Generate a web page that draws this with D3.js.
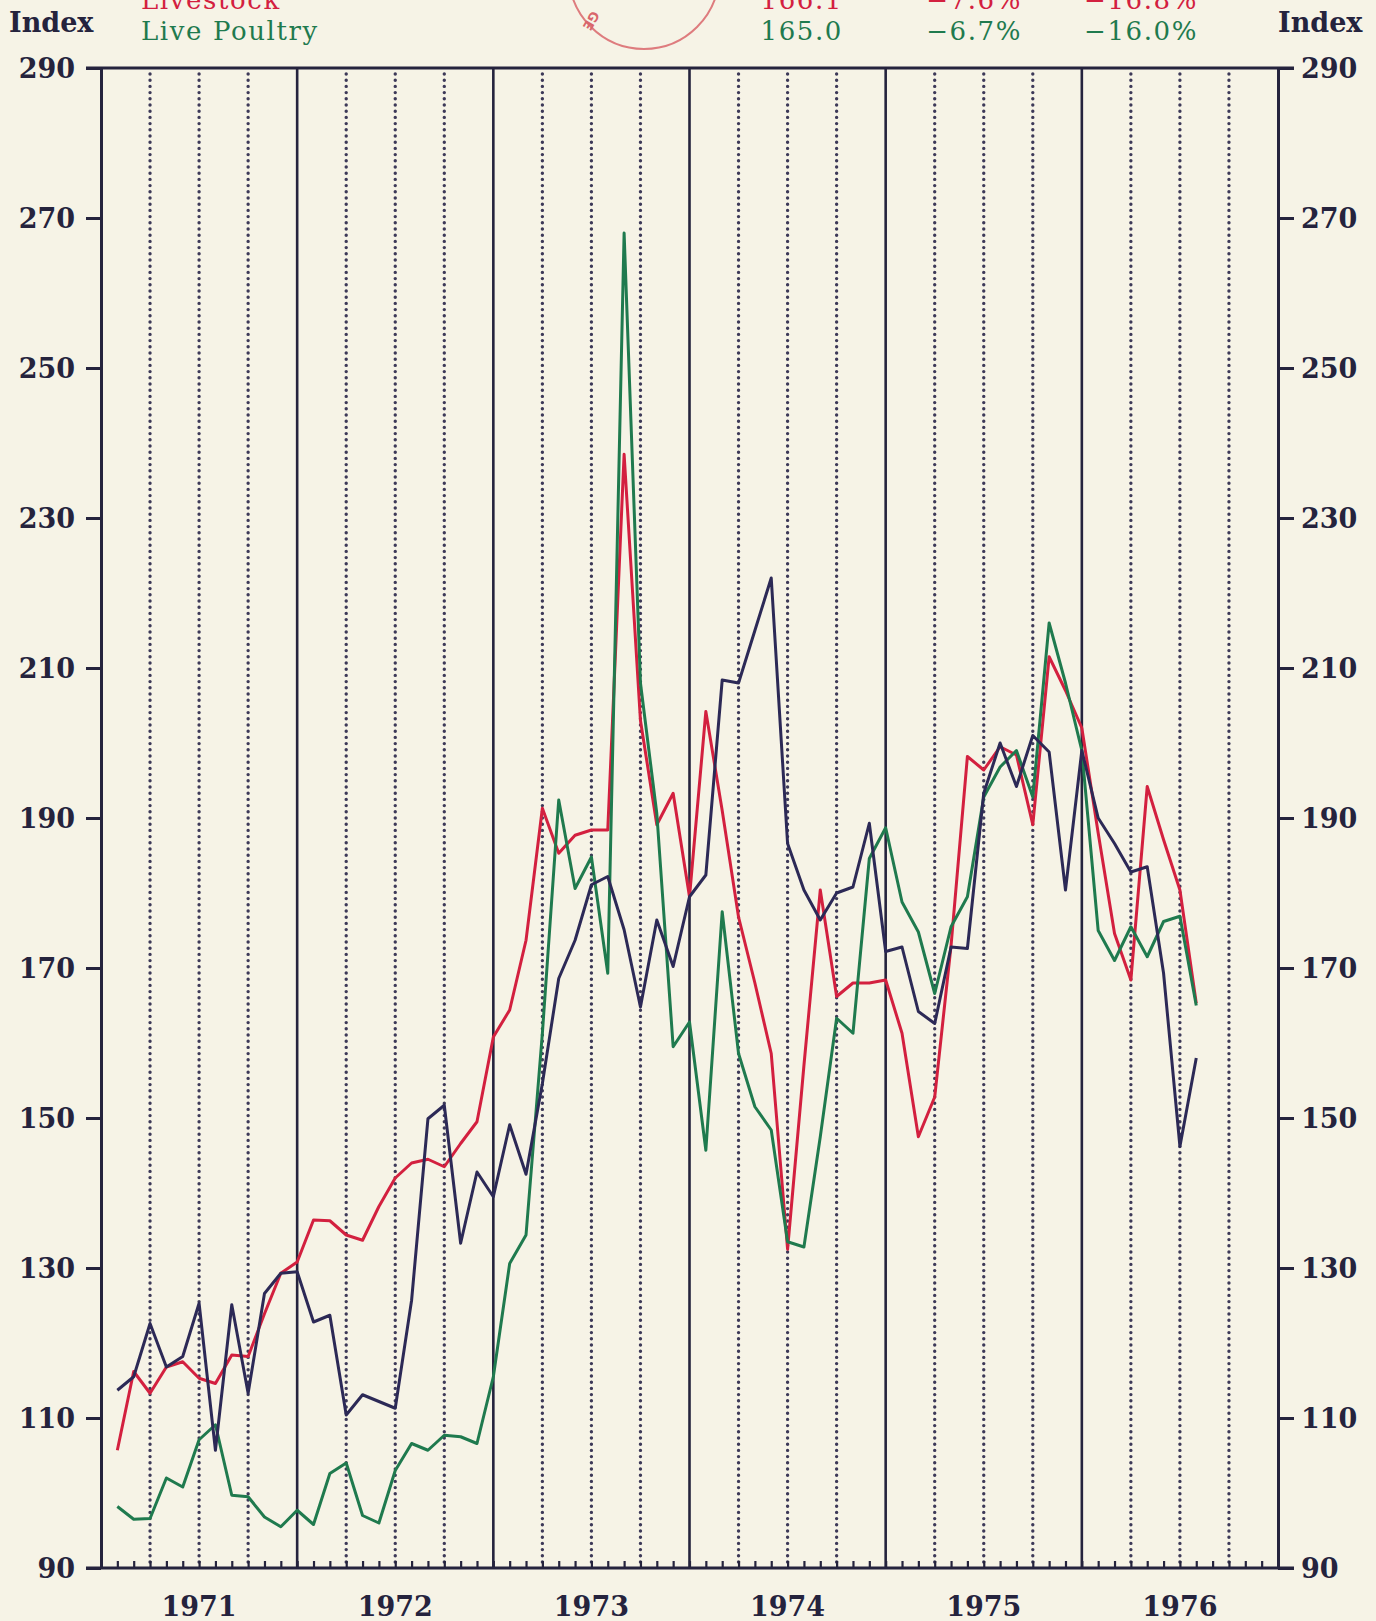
<!DOCTYPE html>
<html>
<head>
<meta charset="utf-8">
<script src="https://cdn.jsdelivr.net/npm/d3@7"></script>
<style>
  body { margin: 0; background: #f6f3e6; }
  svg { display: block; }
  .num { font-family: "DejaVu Serif", serif; font-weight: bold; font-size: 27px; fill: #25233d; }
  .legend { font-family: "DejaVu Serif", serif; font-size: 26px; letter-spacing: 1.6px; }
</style>
</head>
<body>
<svg id="chart" width="1376" height="1621"></svg>
<script>
// monthly index values, Jan 1971 .. Jul 1976
var yearLabels = ["1971", "1972", "1973", "1974", "1975", "1976"];
var yTicks = [90, 110, 130, 150, 170, 190, 210, 230, 250, 270, 290];

var livestock = [
  105.7, 116.2, 113.3, 116.8, 117.5, 115.3, 114.6, 118.4, 118.2, 123.9, 129.3, 130.8,
  136.4, 136.3, 134.4, 133.7, 138.2, 142.0, 144.0, 144.5, 143.5, 146.6, 149.5, 160.8,
  164.4, 173.7, 191.3, 185.3, 187.7, 188.4, 188.4, 238.5, 203.0, 189.1, 193.3, 179.5,
  204.2, 191.0, 176.8, 168.0, 158.6, 132.5, 157.0, 180.4, 166.2, 168.0, 168.0, 168.4,
  161.3, 147.5, 152.8, 173.0, 198.2, 196.4, 199.5, 198.4, 189.1, 211.5, 207.0, 202.0,
  188.0, 174.6, 168.4, 194.2, 187.1, 180.4, 165.3
];
var livePoultry = [
  98.2, 96.5, 96.6, 102.0, 100.8, 107.1, 109.1, 99.7, 99.5, 96.8, 95.5, 97.7,
  95.8, 102.6, 104.0, 97.0, 96.0, 103.0, 106.6, 105.7, 107.7, 107.5, 106.6, 115.5,
  130.6, 134.4, 161.3, 192.4, 180.6, 184.8, 169.3, 268.0, 208.0, 190.6, 159.5, 162.8,
  145.7, 177.5, 158.6, 151.5, 148.4, 133.5, 132.8, 147.5, 163.3, 161.3, 184.6, 188.7,
  178.8, 174.8, 166.6, 175.5, 179.5, 192.8, 196.8, 199.0, 192.8, 216.0, 208.0, 199.0,
  175.0, 171.0, 175.5, 171.5, 176.2, 176.9, 165.0
];
// third series (its legend row is cut off above the picture)
var thirdSeries = [
  113.7, 115.5, 122.6, 116.8, 118.2, 125.3, 105.7, 125.1, 113.3, 126.6, 129.3, 129.5,
  122.8, 123.7, 110.4, 113.1, 112.2, 111.3, 125.7, 149.9, 151.7, 133.3, 142.8, 139.5,
  149.1, 142.5, 154.6, 168.6, 173.7, 181.1, 182.2, 175.1, 164.8, 176.4, 170.2, 179.5,
  182.4, 208.4, 208.0, 215.0, 222.0, 186.6, 180.4, 176.4, 180.0, 180.8, 189.3, 172.2,
  172.8, 164.2, 162.6, 172.8, 172.6, 193.3, 200.0, 194.2, 201.0, 198.8, 180.4, 199.0,
  190.0, 186.6, 182.8, 183.5, 169.3, 146.2, 158.0
];

var legendNames = ["Livestock", "Live Poultry"];
var legendLatest = ["166.1", "165.0"];
var legendMonthChange = ["\u22127.6%", "\u22126.7%"];
var legendYearChange = ["\u221216.8%", "\u221216.0%"];

var red = "#d3203f", green = "#1f7a4e", navy = "#2c2956", ink = "#25233d";
var plotLeft = 101, plotRight = 1278, plotTop = 68, plotBottom = 1568;

var svg = d3.select("#chart");
svg.append("rect").attr("width", 1376).attr("height", 1621).attr("fill", "#f6f3e6");

var x = d3.scaleLinear().domain([0, 72]).range([plotLeft, plotRight]);
var y = d3.scaleLinear().domain([90, 290]).range([plotBottom, plotTop]);

// stamp remains at the top
svg.append("circle").attr("cx", 644).attr("cy", -26).attr("r", 75)
    .attr("fill", "none").attr("stroke", "#d9666b").attr("stroke-width", 2).attr("opacity", 0.85);
svg.append("text").attr("transform", "translate(592,10) rotate(120)")
    .attr("font-family", "DejaVu Sans").attr("font-size", 13).attr("font-weight", "bold")
    .attr("fill", "#d9666b").text("GE");

// quarter dotted lines
var quarters = d3.range(3, 72, 3).filter(function(m) { return m % 12 != 0; });
svg.append("g").selectAll("line").data(quarters).enter().append("line")
    .attr("x1", x).attr("x2", x).attr("y1", plotTop + 6).attr("y2", plotBottom)
    .attr("stroke", "#3d3958").attr("stroke-width", 3.4)
    .attr("stroke-linecap", "round").attr("stroke-dasharray", "0 6.2");

// year dividers
svg.append("g").selectAll("line").data([12, 24, 36, 48, 60]).enter().append("line")
    .attr("x1", x).attr("x2", x).attr("y1", plotTop).attr("y2", plotBottom)
    .attr("stroke", ink).attr("stroke-width", 2.6);

// month ticks on the bottom edge
svg.append("g").attr("transform", "translate(0," + plotBottom + ")")
    .call(d3.axisTop(x).tickValues(d3.range(1, 72)).tickSize(7).tickSizeOuter(0).tickFormat(""))
    .call(function(g) { g.select(".domain").remove(); })
    .selectAll("line").attr("stroke", ink).attr("stroke-width", 2.2);

// top and bottom rules
svg.append("g").selectAll("line").data([290, 90]).enter().append("line")
    .attr("x1", plotLeft - 15).attr("x2", plotRight + 16).attr("y1", y).attr("y2", y)
    .attr("stroke", ink).attr("stroke-width", 3);

// left and right value axes
var yLeft = svg.append("g").attr("transform", "translate(" + plotLeft + ",0)")
    .call(d3.axisLeft(y).tickValues(yTicks).tickSize(15).tickSizeOuter(0).tickPadding(11));
var yRight = svg.append("g").attr("transform", "translate(" + plotRight + ",0)")
    .call(d3.axisRight(y).tickValues(yTicks).tickSize(16).tickSizeOuter(0).tickPadding(7));
[yLeft, yRight].forEach(function(g) {
  g.select(".domain").attr("stroke", ink).attr("stroke-width", 3);
  g.selectAll(".tick line").attr("stroke", ink).attr("stroke-width", 3);
  g.selectAll(".tick text").attr("class", "num").attr("font-size", null).attr("font-family", null)
      .attr("dy", "0.36em");
});

// year labels
svg.append("g").selectAll("text").data(yearLabels).enter().append("text")
    .attr("class", "num")
    .attr("x", function(d, i) { return x(i * 12 + 6); })
    .attr("y", 1616).attr("text-anchor", "middle").text(function(d) { return d; });

// "Index" captions
svg.append("text").attr("class", "num").attr("font-size", 25).attr("x", 9).attr("y", 32).text("Index");
svg.append("text").attr("class", "num").attr("font-size", 25).attr("x", 1278).attr("y", 32).text("Index");

// legend rows (first row partly cut off)
var legendColors = [red, green];
var legendY = [9, 40];
legendNames.forEach(function(name, i) {
  var row = svg.append("g").attr("fill", legendColors[i]).attr("class", "legend");
  row.append("text").attr("x", 141).attr("y", legendY[i]).text(name);
  row.append("text").attr("x", 843).attr("y", legendY[i]).attr("text-anchor", "end").text(legendLatest[i]);
  row.append("text").attr("x", 1022).attr("y", legendY[i]).attr("text-anchor", "end").text(legendMonthChange[i]);
  row.append("text").attr("x", 1198).attr("y", legendY[i]).attr("text-anchor", "end").text(legendYearChange[i]);
});

// series lines
var line = d3.line()
    .x(function(d, i) { return x(i + 1); })
    .y(function(d) { return y(d); });

[[livestock, red], [livePoultry, green], [thirdSeries, navy]].forEach(function(s) {
  svg.append("path").datum(s[0])
      .attr("d", line)
      .attr("fill", "none")
      .attr("stroke", s[1])
      .attr("stroke-width", 3)
      .attr("stroke-linejoin", "round");
});
</script>
</body>
</html>
